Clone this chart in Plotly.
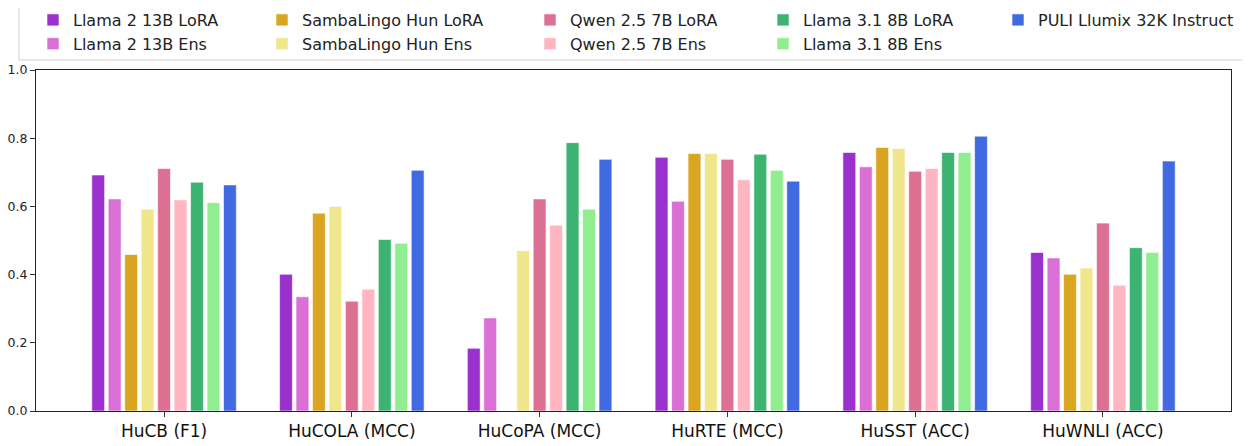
import plotly.graph_objects as go

categories = ["HuCB (F1)", "HuCOLA (MCC)", "HuCoPA (MCC)", "HuRTE (MCC)", "HuSST (ACC)", "HuWNLI (ACC)"]

series_names = [
    "Llama 2 13B LoRA", "Llama 2 13B Ens",
    "SambaLingo Hun LoRA", "SambaLingo Hun Ens",
    "Qwen 2.5 7B LoRA", "Qwen 2.5 7B Ens",
    "Llama 3.1 8B LoRA", "Llama 3.1 8B Ens",
    "PULI Llumix 32K Instruct",
]

llama2_lora = [0.692, 0.401, 0.184, 0.744, 0.758, 0.465]
llama2_ens = [0.622, 0.335, 0.273, 0.615, 0.716, 0.449]
samba_lora = [0.459, 0.580, None, 0.755, 0.773, 0.401]
samba_ens = [0.592, 0.600, 0.470, 0.755, 0.770, 0.419]
qwen_lora = [0.711, 0.322, 0.622, 0.738, 0.703, 0.551]
qwen_ens = [0.619, 0.357, 0.545, 0.678, 0.711, 0.369]
llama31_lora = [0.671, 0.503, 0.787, 0.753, 0.758, 0.479]
llama31_ens = [0.611, 0.492, 0.592, 0.706, 0.758, 0.465]
puli = [0.663, 0.706, 0.738, 0.674, 0.806, 0.733]

series_values = [llama2_lora, llama2_ens, samba_lora, samba_ens, qwen_lora,
                 qwen_ens, llama31_lora, llama31_ens, puli]
colors = ["#9932CC", "#DA70D6", "#DAA520", "#F0E68C", "#DB7093",
          "#FFB6C1", "#3CB371", "#90EE90", "#4169E1"]
legend_ids = ["legend", "legend", "legend2", "legend2", "legend3",
              "legend3", "legend4", "legend4", "legend5"]

yticks = [0.0, 0.2, 0.4, 0.6, 0.8, 1.0]

FONT = "DejaVu Sans"

fig = go.Figure()
for name, vals, col, lg in zip(series_names, series_values, colors, legend_ids):
    fig.add_trace(go.Bar(
        x=list(range(len(categories))), y=vals, name=name,
        marker=dict(color=col, line=dict(color="white", width=0.6)),
        legend=lg,
    ))

# page offset of the plot div (default body margin)
OFF = 8
# target plot area in page pixels: x 36..1231, y 70..411
L, R, T, B = 36, 1231, 70, 411
W, H = 1250 - OFF, 446 - OFF
pw, ph = R - L, B - T

def px2x(px):
    return (px - L) / pw

def py2y(py):
    return (B - py) / ph

legend_text_x = [73, 302, 570, 803, 1038]
legend_common = dict(
    orientation="v", xanchor="left", yanchor="top",
    bgcolor="rgba(0,0,0,0)", borderwidth=0,
    font=dict(family=FONT, size=16, color="#222222"),
    tracegroupgap=0, itemwidth=30,
)
lkeys = ["legend", "legend2", "legend3", "legend4", "legend5"]
layout_legends = {}
for k, tx in zip(lkeys, legend_text_x):
    d = dict(legend_common)
    d["x"] = px2x(tx - 40)
    d["y"] = py2y(3)
    layout_legends[k] = d

fig.update_layout(
    width=W, height=H,
    margin=dict(l=L - OFF, r=W - (R - OFF), t=T - OFF, b=H - (B - OFF),
                pad=0, autoexpand=False),
    paper_bgcolor="white", plot_bgcolor="white",
    barmode="group", bargap=0.211, bargroupgap=0.22,
    font=dict(family=FONT, color="#222222"),
    showlegend=True,
    **layout_legends,
)

fig.update_xaxes(
    range=[-0.682, 5.682],
    tickmode="array", tickvals=list(range(len(categories))), ticktext=categories,
    tickfont=dict(family=FONT, size=17, color="#111111"),
    ticks="outside", ticklen=5, tickcolor="#333333", tickwidth=1,
    showline=True, linecolor="#222222", linewidth=1, mirror=True,
    showgrid=False, zeroline=False,
)
fig.update_yaxes(
    range=[0, 1],
    tickmode="array", tickvals=yticks, ticktext=[f"{v:.1f}" for v in yticks],
    tickfont=dict(family=FONT, size=12.5, color="#222222"),
    ticks="outside", ticklen=5, tickcolor="#333333", tickwidth=1,
    showline=True, linecolor="#222222", linewidth=1, mirror=True,
    showgrid=False, zeroline=False,
)

# legend frame
fig.add_shape(
    type="rect", xref="paper", yref="paper",
    x0=px2x(19), x1=px2x(1245), y0=py2y(60), y1=py2y(6),
    line=dict(color="#d0d0d0", width=1), fillcolor="rgba(255,255,255,0.8)",
    layer="below",
)

fig.write_html("out.html")
